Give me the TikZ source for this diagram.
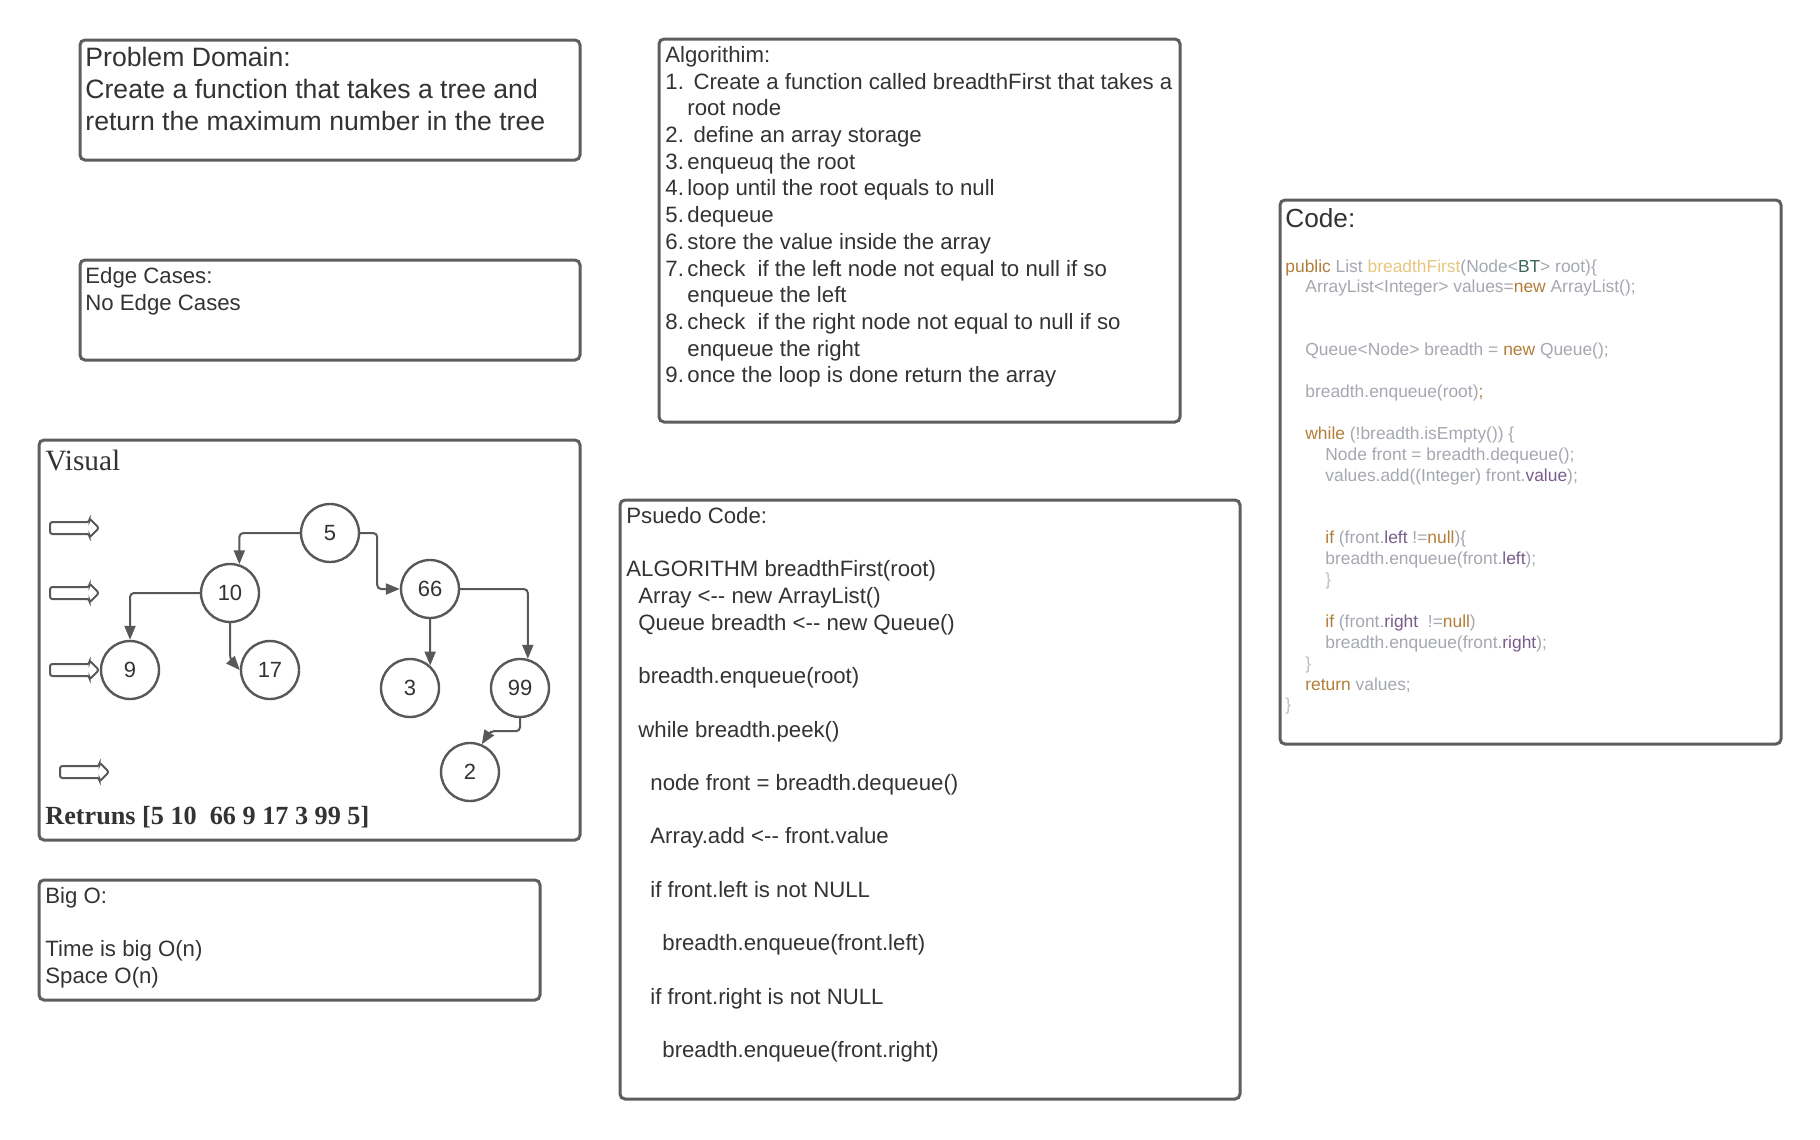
\documentclass[tikz,border=0pt]{standalone}
\usepackage{fontspec}
\setmainfont{Liberation Sans}
\newfontfamily\serifface{Liberation Serif}
\usetikzlibrary{calc, positioning, shapes.arrows, arrows.meta}

\definecolor{boxgrey}{RGB}{94,94,94}
\definecolor{linegrey}{RGB}{88,88,88}
\definecolor{inkgrey}{RGB}{51,51,51}
\definecolor{codetext}{RGB}{165,168,176}
\definecolor{codekwc}{RGB}{178,126,58}
\definecolor{codefnc}{RGB}{232,198,128}
\definecolor{codetyc}{RGB}{62,100,92}
\definecolor{codefldc}{RGB}{122,92,140}
\definecolor{codebrc}{RGB}{188,188,198}

\newcommand{\algnum}[1]{\makebox[11pt][l]{#1.}}
\newcommand{\codekw}[1]{\textcolor{codekwc}{#1}}
\newcommand{\codefn}[1]{\textcolor{codefnc}{#1}}
\newcommand{\codety}[1]{\textcolor{codetyc}{#1}}
\newcommand{\codefld}[1]{\textcolor{codefldc}{#1}}
\newcommand{\codebr}[1]{\textcolor{codebrc}{#1}}

\begin{document}
\begin{tikzpicture}[
  x=0.5pt, y=-0.5pt,
  panel/.style={
    draw=boxgrey,
    line width=1.5pt,
    rounded corners=2.5pt,
    anchor=north west,
    inner sep=0pt,
    outer sep=0pt
    },
  paneltext/.style={
    anchor=north west,
    inner sep=0pt,
    align=left,
    text=inkgrey,
    font=\fontsize{11.1}{13.35}\selectfont
    },
  treenode/.style={
    circle,
    draw=linegrey,
    line width=1.2pt,
    minimum size=29pt,
    inner sep=0pt,
    text=inkgrey,
    font=\fontsize{11}{13}\selectfont
    },
  edge/.style={
    draw=linegrey,
    line width=1pt,
    rounded corners=2pt,
    -{Triangle[length=7pt,width=5.5pt]}
    },
  levelarrow/.style={
    single arrow,
    single arrow head extend=1.75pt,
    draw=linegrey,
    line width=1pt,
    rounded corners=1.2pt,
    inner sep=2.5pt,
    minimum height=24.5pt,
    anchor=west
    }
]

\useasboundingbox[fill=white] (0,0) rectangle (1820,1140);

% boxes
\node[panel, minimum width=250pt, minimum height=60pt] (domain) at (80,40) {};
\node[panel, minimum width=250pt, minimum height=50pt] (edges) at (80,260) {};
\node[panel, minimum width=270.5pt, minimum height=200pt] (visual) at (39,440) {};
\node[panel, minimum width=250.5pt, minimum height=60pt] (bigo) at (39,880) {};
\node[panel, minimum width=260.5pt, minimum height=191.5pt] (algo) at (659,39) {};
\node[panel, minimum width=310pt, minimum height=299.5pt] (pseudo) at (620,500) {};
\node[panel, minimum width=250.5pt, minimum height=272pt] (code) at (1280,200) {};

% texts
\node[paneltext, font=\fontsize{13.3}{16}\selectfont,
  below right=3.5pt and 2.5pt of domain.north west] (domaintext)
  {Problem Domain:\\
   Create a function that takes a tree and\\
   return the maximum number in the tree};

\node[paneltext, below right=3.5pt and 2.5pt of edges.north west] (edgestext)
  {Edge Cases:\\
   No Edge Cases};

\node[paneltext, below right=3.5pt and 3pt of bigo.north west] (bigotext)
  {Big O:\\
   \mbox{}\\
   Time is big O(n)\\
   Space O(n)};

\node[paneltext, below right=3.5pt and 3pt of algo.north west] (algotext)
  {Algorithim:\\
   \algnum{1}\ Create a function called breadthFirst that takes a\\
   \hspace*{11pt}root node\\
   \algnum{2}\ define an array storage\\
   \algnum{3}enqueuq the root\\
   \algnum{4}loop until the root equals to null\\
   \algnum{5}dequeue\\
   \algnum{6}store the value inside the array\\
   \algnum{7}check\ \ if the left node not equal to null if so\\
   \hspace*{11pt}enqueue the left\\
   \algnum{8}check\ \ if the right node not equal to null if so\\
   \hspace*{11pt}enqueue the right\\
   \algnum{9}once the loop is done return the array};

\node[paneltext, below right=3.5pt and 3pt of pseudo.north west] (pseudotext)
  {Psuedo Code:\\
   \mbox{}\\
   ALGORITHM breadthFirst(root)\\
   \hspace*{6pt}Array <-{}- new ArrayList()\\
   \hspace*{6pt}Queue breadth <-{}- new Queue()\\
   \mbox{}\\
   \hspace*{6pt}breadth.enqueue(root)\\
   \mbox{}\\
   \hspace*{6pt}while breadth.peek()\\
   \mbox{}\\
   \hspace*{12pt}node front = breadth.dequeue()\\
   \mbox{}\\
   \hspace*{12pt}Array.add <-{}- front.value\\
   \mbox{}\\
   \hspace*{12pt}if front.left is not NULL\\
   \mbox{}\\
   \hspace*{18pt}breadth.enqueue(front.left)\\
   \mbox{}\\
   \hspace*{12pt}if front.right is not NULL\\
   \mbox{}\\
   \hspace*{18pt}breadth.enqueue(front.right)};

\node[paneltext, font=\fontsize{13.1}{15.7}\selectfont,
  below right=4pt and 2.5pt of code.north west] (codetitle) {Code:};

\node[paneltext, text=codetext, font=\fontsize{8.7}{10.45}\selectfont,
  below right=29.5pt and 2.5pt of code.north west] (codebody)
  {\codekw{public} List \codefn{breadthFirst}(Node<\codety{BT}> root)\{\\
   \hspace*{10pt}ArrayList<Integer> values=\codekw{new} ArrayList();\\
   \mbox{}\\
   \mbox{}\\
   \hspace*{10pt}Queue<Node> breadth = \codekw{new} Queue();\\
   \mbox{}\\
   \hspace*{10pt}breadth.enqueue(root)\codekw{;}\\
   \mbox{}\\
   \hspace*{10pt}\codekw{while} (!breadth.isEmpty()) \{\\
   \hspace*{20pt}Node front = breadth.dequeue();\\
   \hspace*{20pt}values.add((Integer) front.\codefld{value});\\
   \mbox{}\\
   \mbox{}\\
   \hspace*{20pt}\codekw{if} (front.\codefld{left} !=\codekw{null})\{\\
   \hspace*{20pt}breadth.enqueue(front.\codefld{left});\\
   \hspace*{20pt}\codebr{\}}\\
   \mbox{}\\
   \hspace*{20pt}\codekw{if} (front.\codefld{right}\ \ !=\codekw{null})\\
   \hspace*{20pt}breadth.enqueue(front.\codefld{right});\\
   \hspace*{10pt}\codebr{\}}\\
   \hspace*{10pt}\codekw{return} values;\\
   \codebr{\}}};

% visual
\node[paneltext, font=\serifface\fontsize{14.7}{17}\selectfont,
  below right=5pt and 3pt of visual.north west] (visualtitle) {Visual};

\node[levelarrow] (lvlone) at (49,528) {};
\node[levelarrow] (lvltwo) at (49,593) {};
\node[levelarrow] (lvlthree) at (49,670) {};
\node[levelarrow] (lvlfour) at (59,772) {};

\node[treenode] (n5) at (330,533) {5};
\node[treenode] (n10) at (230,593) {10};
\node[treenode] (n66) at (430,589) {66};
\node[treenode] (n9) at (130,670) {9};
\node[treenode] (n17) at (270,670) {17};
\node[treenode] (n3) at (410,688) {3};
\node[treenode] (n99) at (520,688) {99};
\node[treenode] (n2) at (470,772) {2};

\draw[edge] (n5.west) -| (n10.72);
\draw[edge] (n5.east) -- ++(17,0) |- (n66.west);
\draw[edge] (n10.west) -| (n9.north);
\draw[edge] (n10.south) -- ++(0,36) -- (n17.west);
\draw[edge] (n66.south) -- (n3.48);
\draw[edge] (n66.east) -| (n99.75);
\draw[edge] (n99.south) -- ++(0,13) -- ++(-30,0) -- (n2.67);

\node[anchor=west, inner sep=0pt, text=inkgrey,
  font=\serifface\bfseries\fontsize{13.1}{15.7}\selectfont] (result) at (45,817)
  {Retruns [5 10\ \ 66 9 17 3 99 5]};

\end{tikzpicture}
\end{document}
